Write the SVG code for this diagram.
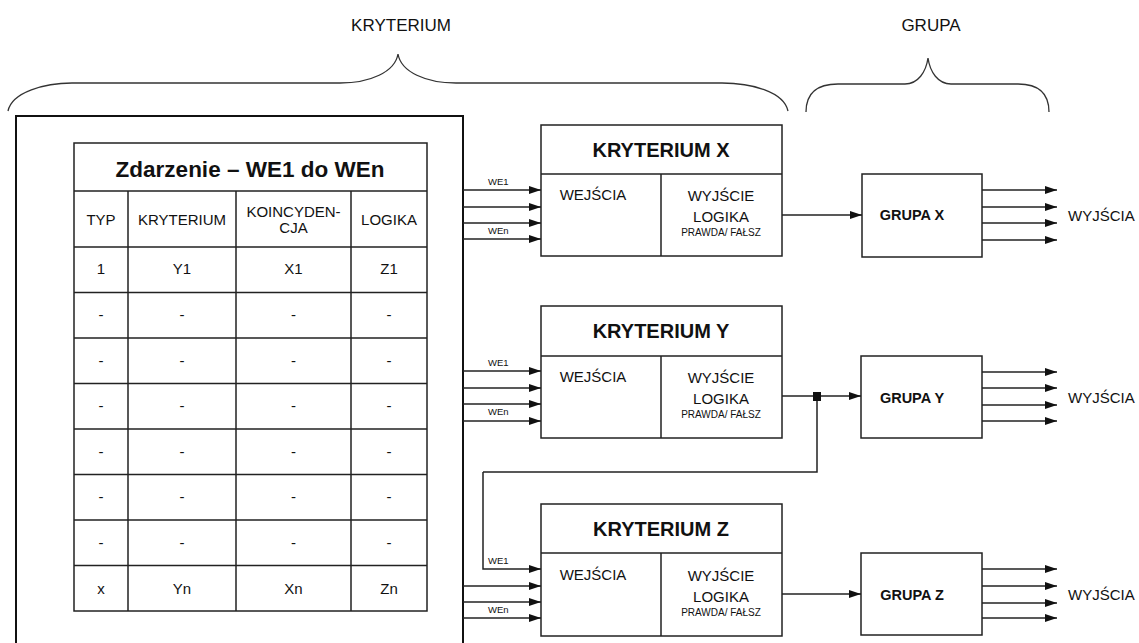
<svg xmlns="http://www.w3.org/2000/svg" width="1139" height="643" viewBox="0 0 1139 643">
<style>
text{font-family:"Liberation Sans",Arial,sans-serif;fill:#111}
.box{fill:#fff;stroke:#222;stroke-width:1.5}
.ln{fill:none;stroke:#222;stroke-width:1.5}
.br{fill:none;stroke:#333;stroke-width:1.3}
.t15{font-size:15px}
.c{text-anchor:middle}
.ttl{font-size:20px;font-weight:bold;text-anchor:middle}
.grp{font-size:14.5px;font-weight:bold;text-anchor:middle}
.sm{font-size:10px;text-anchor:middle}
.we{font-size:9.5px}
</style>
<defs>
<marker id="ah" markerUnits="userSpaceOnUse" markerWidth="13" markerHeight="9" refX="12" refY="4" orient="auto">
<path d="M0,0 L12,4 L0,8 z" fill="#111"/>
</marker>
</defs>

<g id="labels">
<text x="401" y="31" font-size="17" class="c">KRYTERIUM</text>
<text x="931" y="31" font-size="17" class="c">GRUPA</text>
<path class="br" d="M8,111 C12,92 45,83 72,83 L340,83 C370,83 395,72 398,54 C401,72 426,83 456,83 L722,83 C752,83 784,92 788,111"/>
<path class="br" d="M806,112 C806,95 815,84 838,84 L905,84 C918,84 926,72 928,58 C930,72 938,84 951,84 L1018,84 C1041,84 1049,95 1049,112"/>
</g>

<g id="outer">
<rect x="16" y="116" width="447" height="540" fill="none" stroke="#111" stroke-width="2"/>
</g>

<g id="table">
<rect x="74" y="143" width="353" height="468" class="box"/>
<path class="ln" d="M74,191 H427 M74,247 H427 M74,292.5 H427 M74,338 H427 M74,383.5 H427 M74,429 H427 M74,474.5 H427 M74,520 H427 M74,565.5 H427 M128,191 V611 M236,191 V611 M351,191 V611"/>
<text x="250" y="177" font-size="22.5" font-weight="bold" class="c">Zdarzenie – WE1 do WEn</text>
<g class="t15 c">
<text x="101" y="225">TYP</text>
<text x="182" y="225">KRYTERIUM</text>
<text x="293.5" y="217">KOINCYDEN-</text>
<text x="293.5" y="233">CJA</text>
<text x="389" y="225">LOGIKA</text>
<text x="101" y="274">1</text><text x="182" y="274">Y1</text><text x="293.5" y="274">X1</text><text x="389" y="274">Z1</text>
<text x="101" y="320">-</text><text x="182" y="320">-</text><text x="293.5" y="320">-</text><text x="389" y="320">-</text>
<text x="101" y="366">-</text><text x="182" y="366">-</text><text x="293.5" y="366">-</text><text x="389" y="366">-</text>
<text x="101" y="411">-</text><text x="182" y="411">-</text><text x="293.5" y="411">-</text><text x="389" y="411">-</text>
<text x="101" y="457">-</text><text x="182" y="457">-</text><text x="293.5" y="457">-</text><text x="389" y="457">-</text>
<text x="101" y="502">-</text><text x="182" y="502">-</text><text x="293.5" y="502">-</text><text x="389" y="502">-</text>
<text x="101" y="548">-</text><text x="182" y="548">-</text><text x="293.5" y="548">-</text><text x="389" y="548">-</text>
<text x="101" y="594">x</text><text x="182" y="594">Yn</text><text x="293.5" y="594">Xn</text><text x="389" y="594">Zn</text>
</g>
</g>

<g id="kryterium-x">
<rect x="541" y="125" width="241" height="131" class="box"/>
<path class="ln" d="M541,174 H782 M661,174 V256"/>
<text x="661" y="157" class="ttl">KRYTERIUM X</text>
<text x="593" y="200" class="t15 c">WEJŚCIA</text>
<text x="721" y="201" class="t15 c">WYJŚCIE</text>
<text x="721" y="222" class="t15 c">LOGIKA</text>
<text x="721" y="236" class="sm">PRAWDA/ FAŁSZ</text>
</g>

<g id="kryterium-y">
<rect x="541" y="306" width="241" height="132" class="box"/>
<path class="ln" d="M541,356 H782 M661,356 V438"/>
<text x="661" y="338" class="ttl">KRYTERIUM Y</text>
<text x="593" y="382" class="t15 c">WEJŚCIA</text>
<text x="721" y="383" class="t15 c">WYJŚCIE</text>
<text x="721" y="404" class="t15 c">LOGIKA</text>
<text x="721" y="418" class="sm">PRAWDA/ FAŁSZ</text>
</g>

<g id="kryterium-z">
<rect x="541" y="504" width="241" height="132" class="box"/>
<path class="ln" d="M541,553 H782 M661,553 V636"/>
<text x="661" y="536" class="ttl">KRYTERIUM Z</text>
<text x="593" y="580" class="t15 c">WEJŚCIA</text>
<text x="721" y="581" class="t15 c">WYJŚCIE</text>
<text x="721" y="602" class="t15 c">LOGIKA</text>
<text x="721" y="616" class="sm">PRAWDA/ FAŁSZ</text>
</g>

<g id="grupa-x">
<rect x="862" y="174" width="120" height="83" class="box"/>
<text x="912" y="220" class="grp">GRUPA X</text>
</g>
<g id="grupa-y">
<rect x="861" y="356" width="121" height="82" class="box"/>
<text x="912" y="403" class="grp">GRUPA Y</text>
</g>
<g id="grupa-z">
<rect x="861" y="553" width="121" height="82" class="box"/>
<text x="912" y="600" class="grp">GRUPA Z</text>
</g>

<g id="outputs-labels" class="t15">
<text x="1068" y="221">WYJŚCIA</text>
<text x="1068" y="403">WYJŚCIA</text>
<text x="1068" y="600">WYJŚCIA</text>
</g>

<g id="connectors" class="ln" marker-end="url(#ah)">
<path d="M463,190 H541"/><path d="M463,207 H541"/><path d="M463,223 H541"/><path d="M463,239 H541"/>
<path d="M463,371 H541"/><path d="M463,388 H541"/><path d="M463,404 H541"/><path d="M463,421 H541"/>
<path d="M483,472 V569 H541"/><path d="M463,586 H541"/><path d="M463,602 H541"/><path d="M463,618 H541"/>
<path d="M782,215 H862"/>
<path d="M782,396 H861"/>
<path d="M782,594 H861"/>
<path d="M982,190 H1057"/><path d="M982,207 H1057"/><path d="M982,223 H1057"/><path d="M982,240 H1057"/>
<path d="M982,372 H1057"/><path d="M982,388 H1057"/><path d="M982,405 H1057"/><path d="M982,421 H1057"/>
<path d="M982,569 H1057"/><path d="M982,586 H1057"/><path d="M982,603 H1057"/><path d="M982,618 H1057"/>
<path d="M817,396 V472 H483" marker-end="none"/>
</g>
<g id="junction">
<rect x="813" y="392" width="8" height="9" fill="#111"/>
</g>

<g id="connector-labels" class="we">
<text x="488" y="185">WE1</text>
<text x="488" y="234">WEn</text>
<text x="488" y="366">WE1</text>
<text x="488" y="415">WEn</text>
<text x="488" y="564">WE1</text>
<text x="488" y="613">WEn</text>
</g>
</svg>
